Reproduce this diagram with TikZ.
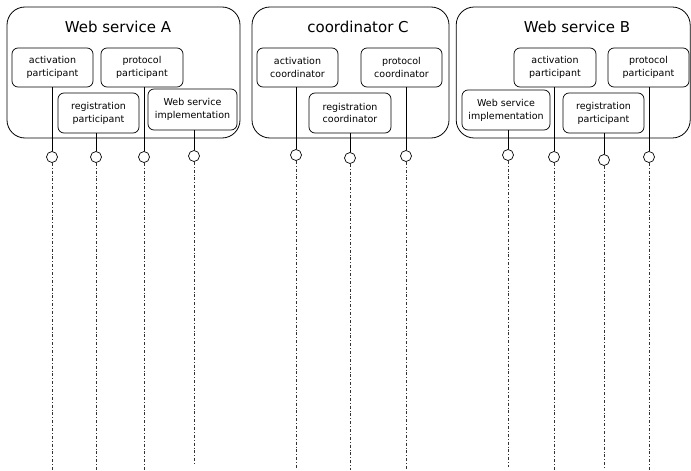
\documentclass[tikz,border=0pt]{standalone}
\usepackage{fontspec}
\setmainfont{DejaVu Sans}
\begin{document}
\begin{tikzpicture}[x=1pt,y=-1pt,
  obox/.style={draw, line width=0.8pt, rounded corners=18pt, inner sep=0pt},
  ibox/.style={draw, line width=0.7pt, rounded corners=6pt, inner sep=0pt, align=center,
    font=\fontsize{9.5}{12.8}\selectfont},
  ttl/.style={font=\fontsize{15}{18}\selectfont, inner sep=0pt},
  port/.style={draw, circle, line width=0.7pt, minimum size=11pt, inner sep=0pt, fill=white},
  conn/.style={line width=0.7pt},
  dd/.style={line width=0.5pt, black!80, dash pattern=on 3pt off 2pt on 0.8pt off 2pt}]
\useasboundingbox (0,0) rectangle (691,471);

% outer boxes
\node[obox, minimum width=233pt, minimum height=131pt] (A) at (123.5,72.5) {};
\node[obox, minimum width=197pt, minimum height=131pt] (C) at (350.5,72.5) {};
\node[obox, minimum width=234pt, minimum height=131pt] (B) at (573.2,72.5) {};
\node[ttl] (tA) at (118,27) {Web service A};
\node[ttl] (tC) at (358,27) {coordinator C};
\node[ttl] (tB) at (577,27) {Web service B};

% inner boxes A
\node[ibox, minimum width=81pt, minimum height=39pt] (actA) at (52.5,67.5) {activation\\participant};
\node[ibox, minimum width=82pt, minimum height=39pt] (protA) at (142,67.5) {protocol\\participant};
\node[ibox, minimum width=81pt, minimum height=40pt] (regA) at (98.5,113) {registration\\participant};
\node[ibox, minimum width=89pt, minimum height=41pt] (wsiA) at (192.5,109.5) {Web service\\implementation};

% inner boxes C
\node[ibox, minimum width=81pt, minimum height=39pt] (actC) at (297.5,67.5) {activation\\coordinator};
\node[ibox, minimum width=81pt, minimum height=39pt] (protC) at (401.5,67.5) {protocol\\coordinator};
\node[ibox, minimum width=82pt, minimum height=40pt] (regC) at (350,113) {registration\\coordinator};

% inner boxes B
\node[ibox, minimum width=82pt, minimum height=39pt] (actB) at (555,67.5) {activation\\participant};
\node[ibox, minimum width=81pt, minimum height=39pt] (protB) at (648.5,67.5) {protocol\\participant};
\node[ibox, minimum width=88pt, minimum height=40pt] (wsiB) at (506,110) {Web service\\implementation};
\node[ibox, minimum width=81pt, minimum height=40pt] (regB) at (603.5,113) {registration\\participant};

% ports
\node[port] (pA1) at (52,157) {};
\node[port] (pA2) at (96,157) {};
\node[port] (pA3) at (144,157) {};
\node[port] (pA4) at (194,156) {};
\node[port] (pC1) at (296,155) {};
\node[port] (pC2) at (350,158) {};
\node[port] (pC3) at (406,156) {};
\node[port] (pB1) at (508,155) {};
\node[port] (pB2) at (554,157) {};
\node[port] (pB3) at (604,160) {};
\node[port] (pB4) at (649,157) {};

% connectors box -> port
\draw[conn] (actA.south -| pA1) -- (pA1.north);
\draw[conn] (regA.south -| pA2) -- (pA2.north);
\draw[conn] (protA.south -| pA3) -- (pA3.north);
\draw[conn] (wsiA.south -| pA4) -- (pA4.north);
\draw[conn] (actC.south -| pC1) -- (pC1.north);
\draw[conn] (regC.south -| pC2) -- (pC2.north);
\draw[conn] (protC.south -| pC3) -- (pC3.north);
\draw[conn] (wsiB.south -| pB1) -- (pB1.north);
\draw[conn] (actB.south -| pB2) -- (pB2.north);
\draw[conn] (regB.south -| pB3) -- (pB3.north);
\draw[conn] (protB.south -| pB4) -- (pB4.north);

% lifelines
\coordinate (eA1) at (52,470);
\coordinate (eA2) at (96,470);
\coordinate (eA3) at (144,470);
\coordinate (eA4) at (194,465);
\coordinate (eC1) at (296,468);
\coordinate (eC2) at (350,470);
\coordinate (eC3) at (406,470);
\coordinate (eB1) at (508,467);
\coordinate (eB2) at (554,470);
\coordinate (eB3) at (604,470);
\coordinate (eB4) at (649,470);
\foreach \p/\e in {pA1/eA1,pA2/eA2,pA3/eA3,pA4/eA4,pC1/eC1,pC2/eC2,pC3/eC3,pB1/eB1,pB2/eB2,pB3/eB3,pB4/eB4}
  \draw[dd] (\p.south) -- (\e);
\end{tikzpicture}
\end{document}
